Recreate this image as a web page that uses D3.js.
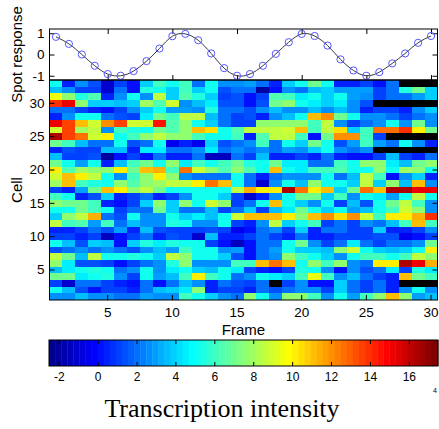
<!DOCTYPE html>
<html><head><meta charset="utf-8">
<script src="https://cdn.jsdelivr.net/npm/d3@7"></script>
<style>
html,body{margin:0;padding:0;background:#fff;}
svg{display:block;font-family:"Liberation Sans",Arial,sans-serif;}
</style></head><body>
<svg id="chart" width="439" height="429"></svg>
<script>
// ---- data ----
const frames = d3.range(1, 31);
const cells = d3.range(1, 34);
const spotResponse = [0.83, 0.5, 0.0, -0.53, -0.92, -1.0, -0.78, -0.31, 0.28, 0.86,
  0.97, 0.67, 0.05, -0.64, -1.0, -0.92, -0.53, 0.03, 0.58, 0.97,
  0.87, 0.42, -0.23, -0.75, -1.0, -0.83, -0.42, 0.05, 0.55, 0.87];
const frameTicks = [5, 10, 15, 20, 25, 30];
const cellTicks = [5, 10, 15, 20, 25, 30];
const responseTicks = [-1, 0, 1];
const intensityTicks = [-2, 0, 2, 4, 6, 8, 10, 12, 14, 16];
const intensityRange = [-2.5, 17.5];
const N = null; // missing measurement, drawn black
// one row per cell, listed from cell 33 (top) down to cell 1; 30 frames each
const intensity = [
  [5,0.5,2.5,1.5,-1,1,0,4,6,5, 6,2,5,2.5,2.5,3,2,0.5,4,5, 7,5,0.5,0.5,1,0,2,N,N,N],
  [3.5,2.5,1,1,-1,2,0,5.5,5,4, 6,4,5,1.5,2,2,-2,0,2.5,2, 3.5,4,3,3,3,1,2,5.5,7,4],
  [9.5,7.5,5.5,6.5,0.5,2.5,5,2.5,8.5,4, 6.5,5.5,4,1,1.5,0,1,6.5,6,4.5, 5,4,5,3,2.5,1,2,2,3,4],
  [14,15,7.5,4,4,3.5,4,8,6.5,9, 2.5,3.5,4.5,1.5,1.5,0,1.5,7,7.5,5, 4.5,4,4.5,2.5,1.5,N,N,N,N,N],
  [2,2,1,0.5,0,1,2.5,4,5,3, 3,2.5,5.5,2,2,1.5,2.5,3.5,2.5,2.5, 3.5,2.5,3.5,2.5,0.5,1,1,0.5,2.5,4],
  [0.5,2.5,5,5,2,1.5,1,4.5,7,6, 8.5,8.5,3.5,2,1,1.5,0.5,2.5,3.5,5, 11,12,7,5,2.5,2.5,2,1,2,2.5],
  [15,13.5,11,9,12,13.5,9,9,14.5,6.5, 7.5,5,4,2,1,1,7.5,7.5,7.5,7.5, 6,8.5,2.5,1,2,2.5,5,2.5,7,2.5],
  [9,13.5,8,8.5,2.5,6,5.5,5,7,6.5, 7.5,11,10.5,5,6.5,8.5,8.5,8.5,9,11, 6,8.5,10.5,4,6,12.5,12.5,14,10,7],
  [16.5,13.5,12.5,9,10,5,6,7.5,8.5,7.5, 7.5,6,5,5,6,0.5,6.5,8.5,8.5,6, 0,7,12,12,6,1,N,N,N,N],
  [7,6,3.5,2,2,5,1.5,2,5,-0.5, 0.5,-0.5,4,1.5,2,2.5,6,2,5,4, 7,5,1.5,3,6,3,2,5,2.5,0.5],
  [0.5,1.5,1,1,3.5,3.5,0.5,4.5,4.5,2, 2,2.5,4.5,2,2.5,2,2.5,2,3,2.5, 4,5,2.5,2,2.5,N,N,N,N,N],
  [3.5,1,1,1.5,-2,0,1,0,2,0.5, 0.5,2,-1.5,-1.5,2,1,3.5,0.5,0.5,1, 0.5,2,0.5,0,0,1,3.5,1,0.5,2],
  [7,5,3,5,0.5,3.5,6,7,5,7.5, 4.5,6,5,6,7,5.5,5,7,4.5,4.5, 2,2,6,5,7.5,7.5,4.5,3.5,7,7.5],
  [10,6.5,8,7.5,7.5,10,7,11,11.5,6, 12.5,9,7.5,6.5,7.5,6.5,5,11,5,4.5, 6,6,6.5,5,5,7.5,5,8,7.5,5],
  [9,11,10,8.5,5,2.5,6,7.5,10,7.5, 2.5,2,2,2,5,2,0.5,2,2.5,2.5, 2.5,5,2,3.5,8.5,6,0,2.5,4,0.5],
  [8,11,6,5.5,5,7.5,6.5,7.5,8,8.5, 8.5,10,12.5,11,5,2,-1,2.5,5,3.5, 7.5,5,5,4,8.5,4,7.5,3.5,11,2.5],
  [1,0.5,3,7,11,10,7.5,8.5,7,5, 5,5,5,5,8.5,11.5,10,10,16.5,12.5, 10,11,4,7,12.5,11,16.5,16.5,15,15],
  [6,5,0.5,1.5,4,0.5,1,2,0.5,1, 2.5,5,5,4,1,-1,0.5,2.5,5,7, 7,4,6,2.5,5,4.5,3,5,8.5,5],
  [7.5,7,7,6,0.5,0,1,4,7.5,4, 7.5,5,9,7.5,1,2,5,11,5,4, 2.5,5,1,3.5,1.5,5,7,8.5,6,2.5],
  [5,5,7,6,5,1,2,2,7,4, 2,2,3.5,1,2,4,1,3.5,4.5,7, 5,4,5,3,3.5,5,6,9,7.5,2.5],
  [4,7.5,8.5,11.5,2,1.5,5,2.5,2.5,5, 4,4.5,3.5,5,9,11,11,11,10,7.5, 11,12,10.5,12,9,6,10,10,11.5,14],
  [8.5,6,6.5,3,6,2,3.5,2.5,2.5,5.5, 5,2.5,2.5,5,1,0.5,2.5,8.5,4,5, 6,1,2,1,2.5,2,3.5,6,11,6],
  [0.5,0.5,1,2,1.5,3,0.5,3.5,1.5,1, 1,1,1.5,1,-0.5,0,2,2.5,1,4, 0.5,2,2,1,1,4,0.5,0.5,1,2.5],
  [1,1,0.5,1,-1.5,0,1,2,0.5,1.5, 1,-1,3.5,0.5,0.5,1,2,1,0.5,2, 0.5,0.5,1,1,1,1.5,1.5,-0.5,0,1],
  [5,3.5,1.5,4,3.5,0,4,5.5,4.5,5.5, 5,5,1,0,-1.5,0,2,2,5,7, 2.5,1,2,4.5,2,1,2,2,2.5,7],
  [1.5,2,2.5,2,2.5,2,1.5,2.5,3.5,3, 6,5,5,2.5,3,0,2,3,5,4, 4,3.5,7.5,9,5,4,3.5,4,5,10],
  [8.5,7,3.5,8.5,5,5,5.5,5,4,8.5, 7.5,5,5,4,1.5,0,2,2.5,7.5,6, 5,4,2.5,5,6,6,5,6,8.5,7.5],
  [7.5,4.5,1.5,1.5,1,0,1,2,2.5,5.5, 7.5,2.5,2.5,2.5,6,6,11,12.5,11,5, 7.5,6,7.5,2.5,2,10,10,16.5,15,11.5],
  [3.5,4.5,5,5.5,5,2,2.5,5,2.5,4.5, 5,4,3.5,5,4.5,1,0.5,0,1,5.5, 5,2.5,0,2.5,1.5,2,4.5,1,5.5,4.5],
  [7,7,4.5,5,5.5,2.5,1,5,3,3.5, 6,10,6,5,2,2.5,5,4.5,4,6, 9.5,6,2.5,3.5,2,1,0.5,11,7,6],
  [1,-1,2,2,1,0.5,0,2,0,2, 3.5,2.5,0.5,2,1.5,1,2,N,1,2.5, 0,0,4,2,1,2,0.5,N,N,N],
  [5,3.5,1.5,0,1,1,0.5,2,3.5,4, 4.5,7.5,0.5,1,1,0.5,2,1.5,2,2.5, 2.5,1,4,2,1,2,0.5,2.5,5,2.5],
  [2.5,2.5,3.5,2.5,2.5,2,2,3,2.5,2.5, 6,5,4,2.5,2,7.5,5,2.5,7.5,7.5, 6,2.5,5,3,6,7.5,11,7.5,3,3.5]
];

// ---- jet colormap, 64 levels ----
function jet(i) { // i = 1..64
  const r = i < 25 ? 0 : i <= 40 ? (i - 24) / 16 : i <= 55 ? 1 : (72 - i) / 16;
  const g = i < 9 ? 0 : i <= 24 ? (i - 8) / 16 : i <= 39 ? 1 : i <= 55 ? (56 - i) / 16 : 0;
  const b = i <= 8 ? (i + 8) / 16 : i <= 23 ? 1 : i <= 39 ? (40 - i) / 16 : 0;
  return d3.rgb(r * 255, g * 255, b * 255).formatHex();
}
const jetColors = d3.range(1, 65).map(jet);

// ---- layout ----
const svg = d3.select("#chart");
const left = 49.5, right = 437.5;
const spotTop = 29, heatTop = 80, heatBottom = 300;
const barTop = 340, barBottom = 366, barLeft = 49, barRight = 438;
const tickLen = 5;

const x = d3.scaleBand().domain(frames).range([left, right]);
const xLin = d3.scaleLinear().domain([0.5, 30.5]).range([left, right]);
const y = d3.scaleBand().domain(cells.slice().reverse()).range([heatTop, heatBottom]);
const ySpot = d3.scaleLinear().domain([-1.2, 1.2]).range([heatTop, spotTop]);
const color = d3.scaleQuantize().domain(intensityRange).range(jetColors);
const xBar = d3.scaleLinear().domain(intensityRange).range([barLeft, barRight]);

const tickFont = 13.5;
const plain = d => String(d); // hyphen-minus labels

function styleAxis(g, showText) {
  g.select(".domain").remove();
  g.selectAll(".tick line").attr("stroke", "#000").attr("stroke-width", 1);
  g.selectAll(".tick text").attr("font-size", tickFont).attr("fill", "#000")
    .attr("font-family", '"Liberation Sans",Arial,sans-serif');
  if (!showText) g.selectAll(".tick text").remove();
}

// ---- heatmap ----
const heat = svg.append("g");
const cellRows = cells.slice().reverse();
intensity.forEach((row, i) => {
  heat.selectAll(null).data(row).enter().append("rect")
    .attr("x", (d, j) => x(frames[j]))
    .attr("y", y(cellRows[i]))
    .attr("width", x.bandwidth())
    .attr("height", y.bandwidth())
    .attr("fill", d => d === null ? "#000" : color(d))
    .attr("shape-rendering", "crispEdges");
});

svg.append("g").attr("transform", `translate(0,${heatBottom})`)
  .call(d3.axisBottom(x).tickValues(frameTicks).tickSizeInner(-tickLen).tickSizeOuter(0).tickPadding(7))
  .call(g => styleAxis(g, true));
svg.append("g").attr("transform", `translate(${left},0)`)
  .call(d3.axisLeft(y).tickValues(cellTicks).tickSizeInner(-tickLen).tickSizeOuter(0).tickPadding(5))
  .call(g => styleAxis(g, true));
svg.append("g").attr("transform", `translate(${right},0)`)
  .call(d3.axisRight(y).tickValues(cellTicks).tickSizeInner(-tickLen).tickSizeOuter(0))
  .call(g => styleAxis(g, false));
svg.append("rect").attr("x", left).attr("y", heatTop)
  .attr("width", right - left).attr("height", heatBottom - heatTop)
  .attr("fill", "none").attr("stroke", "#000").attr("stroke-width", 1);

// ---- spot response ----
svg.append("g").attr("transform", `translate(0,${spotTop})`)
  .call(d3.axisTop(xLin).tickValues(frameTicks).tickSizeInner(-tickLen).tickSizeOuter(0))
  .call(g => styleAxis(g, false));
svg.append("g").attr("transform", `translate(0,${heatTop})`)
  .call(d3.axisBottom(xLin).tickValues(frameTicks).tickSizeInner(tickLen).tickSizeOuter(0))
  .call(g => { g.selectAll(".tick line").attr("y2", -tickLen); styleAxis(g, false); });
svg.append("g").attr("transform", `translate(${left},0)`)
  .call(d3.axisLeft(ySpot).tickValues(responseTicks).tickFormat(plain)
    .tickSizeInner(-tickLen).tickSizeOuter(0).tickPadding(5))
  .call(g => styleAxis(g, true));
svg.append("g").attr("transform", `translate(${right},0)`)
  .call(d3.axisRight(ySpot).tickValues(responseTicks).tickSizeInner(-tickLen).tickSizeOuter(0))
  .call(g => styleAxis(g, false));

svg.append("path")
  .datum(spotResponse)
  .attr("fill", "none").attr("stroke", "#3a3a3a").attr("stroke-width", 1)
  .attr("d", d3.line().x((d, i) => xLin(frames[i])).y(d => ySpot(d)).curve(d3.curveNatural));
svg.append("g").selectAll("circle").data(spotResponse).enter().append("circle")
  .attr("cx", (d, i) => xLin(frames[i])).attr("cy", d => ySpot(d)).attr("r", 3.6)
  .attr("fill", "none").attr("stroke", "#5555ff").attr("stroke-width", 1);
svg.append("rect").attr("x", left).attr("y", spotTop)
  .attr("width", right - left).attr("height", heatTop - spotTop)
  .attr("fill", "none").attr("stroke", "#000").attr("stroke-width", 1);

// ---- axis titles ----
svg.append("text").text("Spot response")
  .attr("transform", `translate(22,${(spotTop + heatTop) / 2}) rotate(-90)`)
  .attr("text-anchor", "middle").attr("font-size", 15);
svg.append("text").text("Cell")
  .attr("transform", `translate(22,${(heatTop + heatBottom) / 2}) rotate(-90)`)
  .attr("text-anchor", "middle").attr("font-size", 15);
svg.append("text").text("Frame")
  .attr("x", (left + right) / 2).attr("y", 335)
  .attr("text-anchor", "middle").attr("font-size", 15);

// ---- colorbar ----
const step = (intensityRange[1] - intensityRange[0]) / jetColors.length;
svg.append("g").selectAll("rect").data(jetColors).enter().append("rect")
  .attr("x", (d, i) => xBar(intensityRange[0] + i * step))
  .attr("width", (d, i) => xBar(intensityRange[0] + (i + 1) * step) - xBar(intensityRange[0] + i * step) + 0.4)
  .attr("y", barTop).attr("height", barBottom - barTop)
  .attr("fill", d => d);
svg.append("g").attr("transform", `translate(0,${barBottom})`)
  .call(d3.axisBottom(xBar).tickValues(intensityTicks).tickFormat(plain)
    .tickSizeInner(-4).tickSizeOuter(0).tickPadding(6))
  .call(g => styleAxis(g, true))
  .call(g => g.selectAll(".tick text").attr("font-size", 12));
svg.append("g").attr("transform", `translate(0,${barTop})`)
  .call(d3.axisTop(xBar).tickValues(intensityTicks).tickSizeInner(-4).tickSizeOuter(0))
  .call(g => styleAxis(g, false));
svg.append("rect").attr("x", barLeft).attr("y", barTop)
  .attr("width", barRight - barLeft).attr("height", barBottom - barTop)
  .attr("fill", "none").attr("stroke", "#000").attr("stroke-width", 1);
svg.append("text").text("4").attr("x", 435).attr("y", 393)
  .attr("text-anchor", "middle").attr("font-size", 7);

svg.append("text").text("Transcription intensity")
  .attr("x", 222).attr("y", 417).attr("text-anchor", "middle")
  .attr("font-family", '"Liberation Serif","Times New Roman",serif').attr("font-size", 26);
</script>
</body></html>
